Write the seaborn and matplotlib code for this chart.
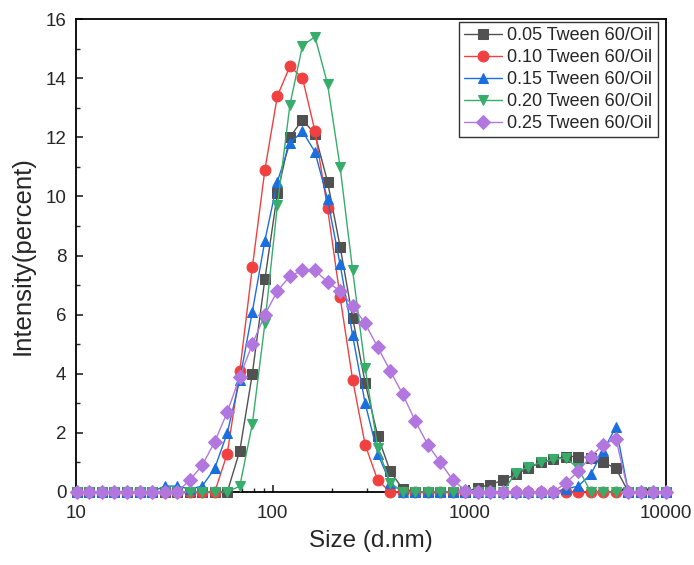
import matplotlib
matplotlib.use("Agg")
import matplotlib.pyplot as plt
import seaborn as sns
import numpy as np
import pandas as pd
from matplotlib.ticker import LogLocator, NullFormatter, FixedLocator, MultipleLocator

sizes = [10.10, 11.70, 13.54, 15.69, 18.17, 21.04, 24.36, 28.21, 32.67, 37.84,
         43.82, 50.75, 58.77, 68.06, 78.82, 91.28, 105.7, 122.4, 141.8, 164.2,
         190.1, 220.2, 255.0, 295.3, 342.0, 396.1, 458.7, 531.2, 615.1, 712.4,
         825.0, 955.4, 1106, 1281, 1484, 1718, 1990, 2305, 2669, 3091,
         3580, 4145, 4801, 5560, 6439, 7456, 8635, 10000]

s005 = [0, 0, 0, 0, 0, 0, 0, 0, 0, 0,
        0, 0, 0, 1.4, 4.0, 7.2, 10.1, 12.0, 12.6, 12.1,
        10.5, 8.3, 5.9, 3.7, 1.9, 0.7, 0.1, 0, 0, 0,
        0, 0, 0.15, 0.25, 0.4, 0.6, 0.8, 1.0, 1.1, 1.2,
        1.2, 1.15, 1.0, 0.8, 0, 0, 0, 0]
s010 = [0, 0, 0, 0, 0, 0, 0, 0, 0, 0,
        0, 0, 1.3, 4.1, 7.6, 10.9, 13.4, 14.4, 14.0, 12.2,
        9.6, 6.6, 3.8, 1.6, 0.4, 0, 0, 0, 0, 0,
        0, 0, 0, 0, 0, 0, 0, 0, 0, 0,
        0, 0, 0, 0, 0, 0, 0, 0]
s015 = [0, 0, 0, 0, 0, 0, 0, 0.2, 0.2, 0.1,
        0.2, 0.8, 2.0, 3.8, 6.1, 8.5, 10.5, 11.8, 12.2, 11.5,
        9.9, 7.7, 5.3, 3.0, 1.3, 0.3, 0, 0, 0, 0,
        0, 0, 0, 0, 0, 0, 0, 0, 0, 0.1,
        0.2, 0.6, 1.4, 2.2, 0, 0, 0, 0]
s020 = [0, 0, 0, 0, 0, 0, 0, 0, 0, 0,
        0, 0, 0, 0.2, 2.3, 5.7, 9.7, 13.1, 15.1, 15.4,
        13.8, 11.0, 7.5, 4.2, 1.5, 0.3, 0, 0, 0, 0,
        0, 0, 0, 0, 0, 0.65, 0.85, 1.0, 1.1, 1.15,
        0.8, 0, 0, 0, 0, 0, 0, 0]
s025 = [0, 0, 0, 0, 0, 0, 0, 0, 0, 0.4,
        0.9, 1.7, 2.7, 3.9, 5.0, 6.0, 6.8, 7.3, 7.5, 7.5,
        7.1, 6.8, 6.3, 5.7, 4.9, 4.1, 3.3, 2.4, 1.6, 1.0,
        0.4, 0.05, 0, 0, 0, 0, 0, 0, 0, 0.3,
        0.7, 1.2, 1.6, 1.8, 0, 0, 0, 0]

labels = ["0.05 Tween 60/Oil", "0.10 Tween 60/Oil", "0.15 Tween 60/Oil",
          "0.20 Tween 60/Oil", "0.25 Tween 60/Oil"]
series = [s005, s010, s015, s020, s025]
colors = ["#515151", "#F14040", "#1A6FDF", "#37AD6B", "#B177DE"]
markers = ["s", "o", "^", "v", "D"]
msizes = [6.8, 7.8, 7.8, 7.8, 6.8]

sns.set_style("ticks")
plt.rcParams["font.family"] = ["Liberation Sans", "DejaVu Sans"]

fig = plt.figure(figsize=(6.94, 5.65), dpi=100)
ax = fig.add_axes([76/694, 1-492/565, (666-76)/694, (492-19)/565])

for lab, vals, c, m, ms in zip(labels, series, colors, markers, msizes):
    df = pd.DataFrame({"size": sizes, "val": vals})
    sns.lineplot(data=df, x="size", y="val", ax=ax, color=c, marker=m,
                 markersize=ms, markeredgecolor=c, linewidth=1.0,
                 label=lab, clip_on=False, zorder=3)

ax.set_xscale("log")
ax.set_xlim(10, 10000)
ax.set_ylim(0, 16)
ax.yaxis.set_major_locator(MultipleLocator(2))
ax.yaxis.set_minor_locator(MultipleLocator(1))
ax.xaxis.set_major_locator(FixedLocator([10, 100, 1000, 10000]))
ax.xaxis.set_minor_locator(LogLocator(base=10, subs=np.arange(2, 10)))
ax.xaxis.set_minor_formatter(NullFormatter())
ax.set_xticklabels(["10", "100", "1000", "10000"])

ax.tick_params(which="major", direction="in", length=5, width=1.2, labelsize=13.5)
ax.tick_params(axis="x", which="major", pad=9)
ax.tick_params(axis="y", which="major", pad=7)
ax.tick_params(which="minor", direction="in", length=3, width=1.0)
for sp in ax.spines.values():
    sp.set_linewidth(1.3)
    sp.set_color("black")
    sp.set_visible(True)

ax.set_xlabel("Size (d.nm)", fontsize=17.5, labelpad=6)
ax.set_ylabel("Intensity(percent)", fontsize=18.5, labelpad=8)

leg = ax.legend(loc="upper right", bbox_to_anchor=(658/694, 1-22/565),
                bbox_transform=fig.transFigure, borderaxespad=0,
                fontsize=13, frameon=True, fancybox=False,
                edgecolor="black", handlelength=2.1, handletextpad=0.3,
                labelspacing=0.27, borderpad=0.3)
leg.get_frame().set_linewidth(1.0)

fig.savefig("out.png", dpi=100)
